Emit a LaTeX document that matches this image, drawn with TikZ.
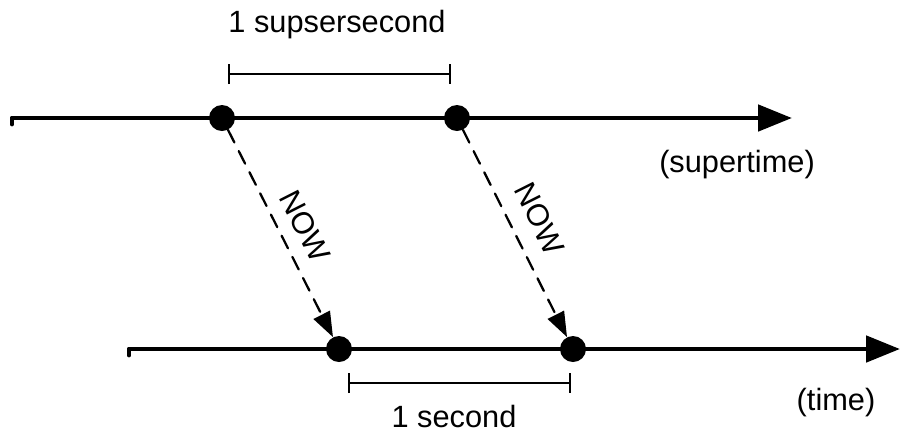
\documentclass[tikz,border=0pt]{standalone}
\usepackage{fontspec}
\setmainfont{Liberation Sans}
\usetikzlibrary{arrows.meta,calc}
\tikzset{
  dot/.style={circle,fill,inner sep=0pt,minimum size=5.2mm},
  axis/.style={line width=2.8pt,-{Triangle[length=6.8mm,width=5.2mm]}},
  nowline/.style={line width=1.3pt,dash pattern=on 8pt off 5.5pt,-{Triangle[length=5mm,width=3.6mm]}},
  span/.style={line width=1.1pt,{Bar[width=4mm]}-{Bar[width=4mm]}},
}
\begin{document}
\begin{tikzpicture}[font=\fontsize{17.5}{21}\selectfont,line join=round,line cap=round]
	\useasboundingbox (0,0) rectangle (18.04,-8.62);
	\coordinate (S1) at (0.24,-2.36);   % supertime axis
	\coordinate (E1) at (15.84,-2.36);
	\coordinate (S2) at (2.58,-6.98);   % time axis
	\coordinate (E2) at (18.0,-6.98);
	\coordinate (P1) at (4.56,-1.48);
	\coordinate (P2) at (9.02,-1.48);
	\coordinate (Q1) at (6.96,-7.66);
	\coordinate (Q2) at (11.42,-7.66);
	
	\draw[axis] ($(S1)+(0,-0.12)$) -- (S1) -- (E1);
	\draw[axis] ($(S2)+(0,-0.12)$) -- (S2) -- (E2);
	
	\node[dot] (T1) at (4.44,-2.36) {};
	\node[dot] (T2) at (9.14,-2.36) {};
	\node[dot] (B1) at (6.78,-6.98) {};
	\node[dot] (B2) at (11.46,-6.98) {};
	
	\draw[nowline] (T1) -- node[pos=0.52,sloped,above=4pt] {NOW} (B1);
	\draw[nowline] (T2) -- node[pos=0.49,sloped,above=6pt] {NOW} (B2);
	
	\draw[span] (P1) -- (P2);
	\draw[span] (Q1) -- (Q2);
	
	\path (6.74,-0.64) node[anchor=base] (lsup) {1 supsersecond};
	\path (9.08,-8.54) node[anchor=base] (lsec) {1 second};
	\path (14.74,-3.44) node[anchor=base] (lst) {(supertime)};
	\path (16.72,-8.2) node[anchor=base] (lt) {(time)};
\end{tikzpicture}
\end{document}
